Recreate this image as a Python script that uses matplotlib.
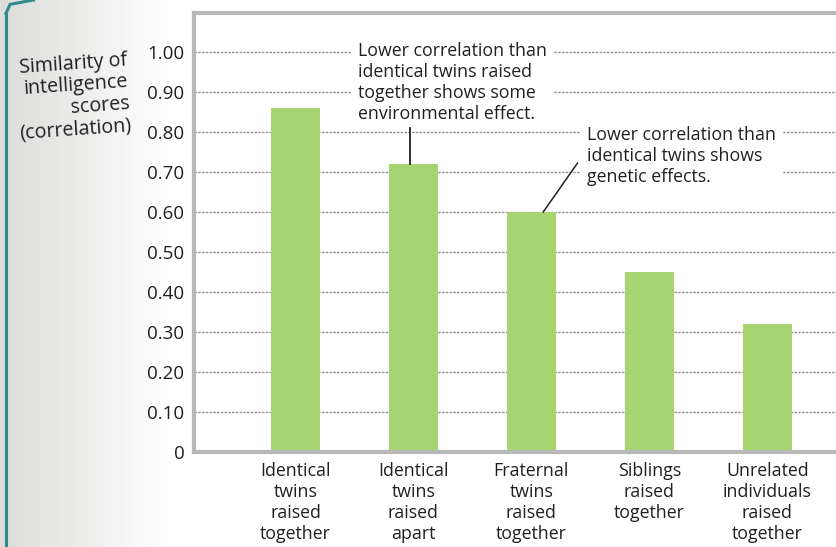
import numpy as np
import matplotlib
matplotlib.use("Agg")
import matplotlib.pyplot as plt
from matplotlib.colors import LinearSegmentedColormap

# ---- data ----
categories = ["Identical\ntwins\nraised\ntogether",
              "Identical\ntwins\nraised\napart",
              "Fraternal\ntwins\nraised\ntogether",
              "Siblings\nraised\ntogether",
              "Unrelated\nindividuals\nraised\ntogether"]
correlations = [0.86, 0.72, 0.60, 0.45, 0.32]
ytick_values = [0, 0.10, 0.20, 0.30, 0.40, 0.50, 0.60, 0.70, 0.80, 0.90, 1.00]
ytick_labels = ["0", "0.10", "0.20", "0.30", "0.40", "0.50", "0.60", "0.70", "0.80", "0.90", "1.00"]
ylabel_text = "Similarity of\nintelligence\nscores\n(correlation)"
note_env = "Lower correlation than\nidentical twins raised\ntogether shows some\nenvironmental effect."
note_gen = "Lower correlation than\nidentical twins shows\ngenetic effects."

plt.rcParams['font.family'] = ['Open Sans', 'DejaVu Sans']
TXT = '#231f20'
FS = 12.8
LS = 1.23

W, H = 837, 547
fig = plt.figure(figsize=(W / 100, H / 100), dpi=100)
fig.patch.set_facecolor('white')

# page-edge background (book scan look)
bg = fig.add_axes([0, 0, 1, 1], zorder=-10)
xs = np.linspace(0, 1, 400)
grad = np.tile(np.clip(0.90 + 0.10 * (xs / 0.2), 0, 1), (10, 1))
cmap = LinearSegmentedColormap.from_list('g', ['#dcdcda', '#ffffff'])
bg.imshow(grad, cmap=cmap, aspect='auto', extent=[0, 1, 0, 1], vmin=0.90, vmax=1.0)
bg.plot([0.007, 0.007], [0.0, 0.975], color='#2e8a8c', lw=2.2)
bg.plot([0.007, 0.012, 0.04], [0.975, 0.992, 1.0], color='#2e8a8c', lw=2.2)
bg.set_xlim(0, 1); bg.set_ylim(0, 1)
bg.axis('off')

left_px, right_px = 194, 870
bottom_px, top_px = 452, 13
ax = fig.add_axes([left_px / W, 1 - bottom_px / H,
                   (right_px - left_px) / W, (bottom_px - top_px) / H])
ax.set_facecolor('white')

x = np.arange(len(categories))
ax.bar(x, correlations, width=0.41, color='#a6d470', zorder=2)

ax.set_xlim(-0.86, 4.87)
ax.set_ylim(0, 1.0975)

ax.set_yticks(ytick_values)
ax.set_yticklabels(ytick_labels, fontsize=13.5, color=TXT)
ax.set_xticks(x)
ax.set_xticklabels(categories, fontsize=FS, color=TXT, linespacing=LS)
ax.tick_params(axis='both', length=0)
ax.tick_params(axis='y', pad=7)
ax.tick_params(axis='x', pad=7)

for gy in ytick_values[1:]:
    ax.axhline(gy, color='#8a8a8a', lw=0.9, ls=(0, (2.0, 1.0)), zorder=1)

for s in ['left', 'top', 'bottom', 'right']:
    ax.spines[s].set_color('#b8b8b8')
    ax.spines[s].set_linewidth(3.0)
    ax.spines[s].set_zorder(3)

# annotations
ax.text(0.53, 0.924, note_env, ha='left', va='center', fontsize=FS,
        color=TXT, linespacing=LS, zorder=4,
        bbox=dict(boxstyle='square,pad=0.35', fc='white', ec='none'))
ax.plot([0.97, 0.97], [0.81, correlations[1]], color=TXT, lw=1.3, zorder=4)

ax.text(2.47, 0.7395, note_gen, ha='left', va='center', fontsize=FS,
        color=TXT, linespacing=LS, zorder=4,
        bbox=dict(boxstyle='square,pad=0.35', fc='white', ec='none'))
ax.plot([2.39, 2.10], [0.722, correlations[2]], color=TXT, lw=1.1, zorder=4)

fig.text(129 / W, 1 - 93 / H, ylabel_text, ha='right', va='center',
         multialignment='right', rotation=4, rotation_mode='anchor',
         fontsize=14.2, color=TXT, linespacing=1.12)

fig.savefig('out.png', dpi=100)
